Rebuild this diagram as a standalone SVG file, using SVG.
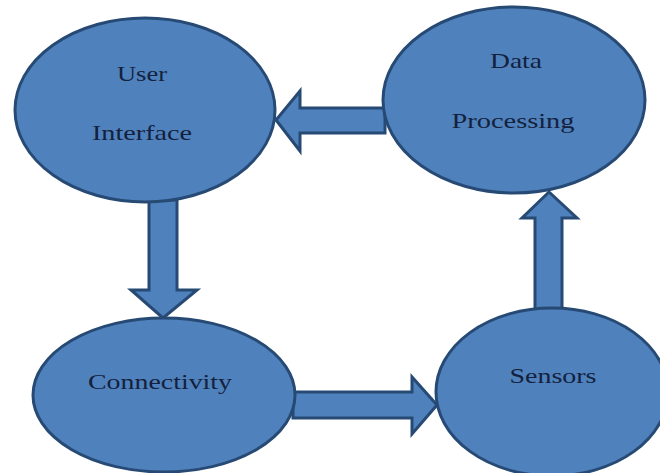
<svg xmlns="http://www.w3.org/2000/svg" width="660" height="473" viewBox="0 0 660 473">
<style>
.node{fill:#4f81bd;stroke:#274a74;stroke-width:3}
.arr{fill:#4f81bd;stroke:#274a74;stroke-width:3;stroke-linejoin:miter}
.lbl{font-family:"Liberation Serif","Times New Roman",serif;font-size:22px;fill:#14213d;text-anchor:middle}
</style>
<rect width="660" height="473" fill="#ffffff"/>
<g id="connectors">
<polygon class="arr" points="385,108 300,108 300,91 276,120 300,151 300,133 385,133"/>
<polygon class="arr" points="149,200 149,290 131,290 163,318 197,290 177,290 177,200"/>
<polygon class="arr" points="293,392 412,392 412,377 437,405 412,434 412,418 293,418"/>
<polygon class="arr" points="535,310 535,218 522,218 549,192 577,218 562,218 562,310"/>
</g>
<g id="user-interface">
<ellipse class="node" cx="145" cy="110" rx="130" ry="92"/>
<text class="lbl" x="142" y="81" textLength="50" lengthAdjust="spacingAndGlyphs">User</text>
<text class="lbl" x="142" y="140" textLength="100" lengthAdjust="spacingAndGlyphs">Interface</text>
</g>
<g id="data-processing">
<ellipse class="node" cx="514" cy="100" rx="131" ry="93"/>
<text class="lbl" x="516" y="68" textLength="52" lengthAdjust="spacingAndGlyphs">Data</text>
<text class="lbl" x="513" y="128" textLength="123" lengthAdjust="spacingAndGlyphs">Processing</text>
</g>
<g id="connectivity">
<ellipse class="node" cx="164" cy="395" rx="131" ry="77"/>
<text class="lbl" x="160" y="389" textLength="144" lengthAdjust="spacingAndGlyphs">Connectivity</text>
</g>
<g id="sensors">
<ellipse class="node" cx="552" cy="392" rx="116" ry="84"/>
<text class="lbl" x="553" y="383" textLength="87" lengthAdjust="spacingAndGlyphs">Sensors</text>
</g>
</svg>
